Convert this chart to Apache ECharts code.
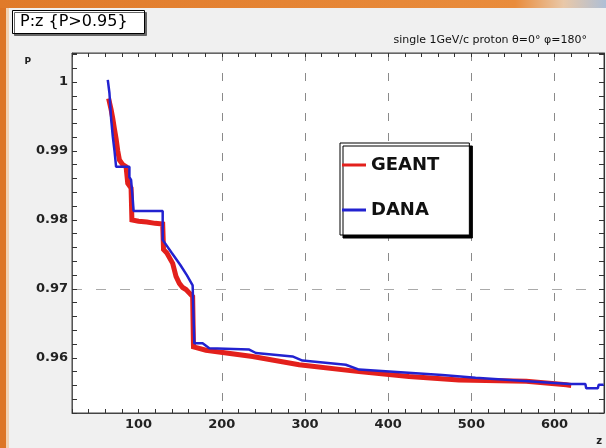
<!DOCTYPE html>
<html><head><meta charset="utf-8">
<script src="https://cdn.jsdelivr.net/npm/echarts@6/dist/echarts.min.js"></script>
<style>html,body{margin:0;padding:0;background:#f0f0f0;}#c{width:606px;height:448px;}</style>
</head><body><div id="c"></div>
<script>
// ---- data ----
const xTickLabels = ['100','200','300','400','500','600'];
const yTickLabels = ['0.96','0.97','0.98','0.99','1'];
const xGridValues = [200,300,400,500,600];
const yGridValues = [0.97];

const danaZ = [63,65,67,69,71,73,89,89,91,93,94,129,129,131,140,150,158,165,167,167,177,185,233,241,285,297,349,365,465,505,618,637,638,652,653,659];
const danaP = [1.0003,0.9984,0.9947,0.9921,0.9901,0.9877,0.9877,0.9862,0.9858,0.9830,0.9813,0.9813,0.9771,0.9769,0.9752,0.9735,0.9720,0.9705,0.9703,0.9621,0.9621,0.9614,0.9612,0.9607,0.9602,0.9596,0.9590,0.9583,0.9575,0.9571,0.9562,0.9562,0.9556,0.9556,0.9561,0.9561];

const geantZ = [64,67,69,71,73,75,77,81,85,87,91,92,100,110,120,129,130,134,141,145,149,153,157,161,165,166,181,237,293,365,425,485,566,614,620];
const geantP = [0.9976,0.9960,0.9947,0.9932,0.9918,0.9900,0.9887,0.9880,0.9877,0.9853,0.9846,0.9800,0.9798,0.9797,0.9795,0.9794,0.9757,0.9752,0.9737,0.9718,0.9708,0.9702,0.9699,0.9694,0.9689,0.9616,0.9611,0.9602,0.9590,0.9580,0.9573,0.9568,0.9566,0.9561,0.9560];

const seriesNames = ['GEANT','DANA'];
const titleText = 'P:z {P>0.95}';
const subtitleText = 'single 1GeV/c proton \u03b8=0\u00b0 \u03c6=180\u00b0';

function pairs(a,b){ return a.map((v,i)=>[v,b[i]]); }

const X_MIN = 20, X_MAX = 659.4, X_STEP = 20;
const Y_MIN = 0.952, Y_MAX = 1.0042, Y_STEP = 0.002;

// split-line colour arrays (ticks are counted from min)
function gridColors(min, max, step, values, col){
  const n = Math.floor((max - min) / step + 1e-9) + 2;
  const arr = [];
  for (let i = 0; i < n; i++){
    const v = min + i * step;
    arr.push(values.some(g => Math.abs(g - v) < step * 1e-3) ? col : 'rgba(0,0,0,0)');
  }
  return arr;
}

const chart = echarts.init(document.getElementById('c'), null, {renderer:'canvas'});
const labelFont = {fontFamily:'DejaVu Sans', fontWeight:'bold', fontSize:13, color:'#222'};

function xLabel(v){ const s=String(Math.round(v)); return (Math.abs(v-Math.round(v))<1e-6 && xTickLabels.indexOf(s)>=0)? s : ''; }
function yLabel(v){ for (const t of yTickLabels){ if (Math.abs(v-parseFloat(t))<1e-7) return t; } return ''; }

chart.setOption({
  backgroundColor:'#f0f0f0',
  animation:false,
  title:[{
    text:titleText, left:12, top:10,
    padding:[4,17,4,8],
    backgroundColor:'#fff', borderColor:'#000', borderWidth:1,
    shadowColor:'#666', shadowOffsetX:2, shadowOffsetY:2, shadowBlur:0,
    textStyle:{fontFamily:'DejaVu Sans', fontWeight:'normal', fontSize:16, color:'#000'}
  },{
    text:subtitleText, right:19, top:35, padding:0,
    textStyle:{fontFamily:'DejaVu Sans', fontWeight:'normal', fontSize:11, color:'#111'}
  }],
  legend:{
    data:seriesNames, orient:'vertical', left:340, top:143,
    padding:[13,30,16,2], itemGap:27, itemWidth:24, itemHeight:3, icon:'rect',
    backgroundColor:'#fff', borderColor:'#000', borderWidth:1,
    shadowColor:'#000', shadowOffsetX:3, shadowOffsetY:3, shadowBlur:0,
    textStyle:{fontFamily:'DejaVu Sans', fontWeight:'bold', fontSize:18, color:'#111'}
  },
  grid:{left:72, top:53, right:2, bottom:35, show:true, backgroundColor:'#fff', borderColor:'#444', borderWidth:1, outerBoundsMode:'none'},
  xAxis:[{
    type:'value', min:X_MIN, max:X_MAX, interval:X_STEP, position:'bottom',
    name:'z', nameLocation:'end', nameGap:0,
    nameTextStyle:{fontFamily:'DejaVu Sans', fontWeight:'bold', fontSize:10, color:'#222', align:'right', verticalAlign:'top', padding:[23,2,0,0]},
    axisLine:{show:true, lineStyle:{color:'#444'}},
    axisTick:{show:true, inside:true, length:4, lineStyle:{color:'#333'}},
    axisLabel:Object.assign({formatter:xLabel, margin:5, showMinLabel:true, showMaxLabel:false, hideOverlap:false}, labelFont),
    splitLine:{show:true, lineStyle:{type:[8,12], width:1, color:gridColors(X_MIN,X_MAX,X_STEP,xGridValues,'#8a8a8a')}}
  },{
    type:'value', min:X_MIN, max:X_MAX, interval:X_STEP, position:'top',
    axisLine:{show:true, lineStyle:{color:'#666'}},
    axisTick:{show:true, inside:true, length:4, lineStyle:{color:'#333'}},
    axisLabel:{show:false}, splitLine:{show:false}
  }],
  yAxis:[{
    type:'value', min:Y_MIN, max:Y_MAX, interval:Y_STEP, position:'left',
    name:'P', nameLocation:'end', nameGap:0,
    nameTextStyle:{fontFamily:'DejaVu Sans', fontWeight:'bold', fontSize:9, color:'#222', align:'right', verticalAlign:'top', padding:[4,41,0,0]},
    axisLine:{show:true, lineStyle:{color:'#555'}},
    axisTick:{show:true, inside:true, length:5, lineStyle:{color:'#333'}},
    axisLabel:Object.assign({formatter:yLabel, margin:4, hideOverlap:false}, labelFont),
    splitLine:{show:true, lineStyle:{type:[10,14], width:1, color:gridColors(Y_MIN,Y_MAX,Y_STEP,yGridValues,'#aaa')}}
  },{
    type:'value', min:Y_MIN, max:Y_MAX, interval:Y_STEP, position:'right',
    axisLine:{show:true, lineStyle:{color:'#333'}},
    axisTick:{show:true, inside:true, length:5, lineStyle:{color:'#333'}},
    axisLabel:{show:false}, splitLine:{show:false}
  }],
  series:[{
    name:seriesNames[0], type:'line', xAxisIndex:0, yAxisIndex:0,
    data:pairs(geantZ, geantP), showSymbol:false, symbol:'rect',
    itemStyle:{color:'#e3201c'},
    lineStyle:{color:'#e3201c', width:5, cap:'butt', join:'miter'}, z:3
  },{
    name:seriesNames[1], type:'line', xAxisIndex:0, yAxisIndex:0,
    data:pairs(danaZ, danaP), showSymbol:false, symbol:'rect',
    itemStyle:{color:'#2222d0'},
    lineStyle:{color:'#2222d0', width:2.5}, z:4
  }],
  graphic:[
    {type:'rect', shape:{x:0,y:0,width:6,height:448}, style:{fill:'#dd7526'}, z:-1},
    {type:'rect', shape:{x:6,y:0,width:3,height:448}, style:{fill:'#f2d2b4'}, z:-1},
    {type:'rect', shape:{x:0,y:0,width:606,height:8}, z:-1,
     style:{fill:new echarts.graphic.LinearGradient(0,0,1,0,[
       {offset:0,color:'#e07a2a'},{offset:0.85,color:'#e98c3c'},{offset:0.93,color:'#e9c8a8'},{offset:1,color:'#aebfd6'}])}}
  ]
});
</script></body></html>
